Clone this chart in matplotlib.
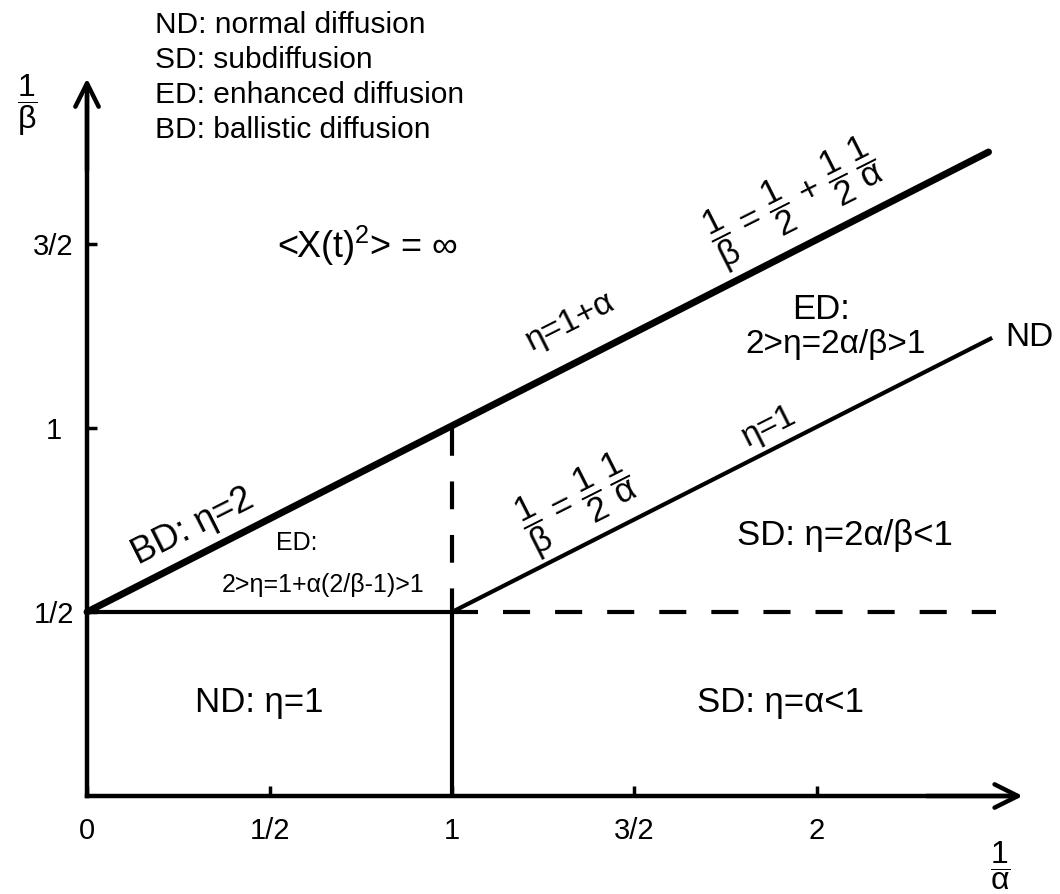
import matplotlib
matplotlib.use('Agg')
import matplotlib.pyplot as plt
import numpy as np

plt.rcParams['font.family'] = ['Liberation Sans', 'DejaVu Sans']
plt.rcParams['mathtext.fontset'] = 'custom'
plt.rcParams['mathtext.rm'] = 'Liberation Sans'
plt.rcParams['mathtext.it'] = 'Liberation Sans'
plt.rcParams['mathtext.default'] = 'regular'
plt.rcParams['lines.scale_dashes'] = False

# boundary lines of the phase diagram (x = 1/alpha, y = 1/beta)
bd_x = [0.0, 2.47]          # thick line 1/b = 1/2 + 1/(2a)
bd_y = [0.5, 1.75]
nd_x = [1.0, 2.48]          # thin line 1/b = 1/(2a)
nd_y = [0.5, 1.245]
half_solid_x = [0.0, 1.07]  # 1/b = 1/2, solid part
half_dash_x = [1.14, 2.49]  # 1/b = 1/2, dashed part
one_solid_y = [0.0, 0.5]    # 1/a = 1, solid part
one_dash_y = [1.0, 0.5]     # 1/a = 1, dashed part

xticks = [0, 0.5, 1, 1.5, 2]
xticklabels = ['0', '1/2', '1', '3/2', '2']
yticks = [0.5, 1, 1.5]
yticklabels = ['1/2', '1', '3/2']

legend_lines = ['ND: normal diffusion', 'SD: subdiffusion',
                'ED: enhanced diffusion', 'BD: ballistic diffusion']

fig = plt.figure(figsize=(10.6, 8.94), dpi=100)
ax = fig.add_axes([0, 0, 1, 1])
ax.set_xlim(-0.2384, 2.6658)
ax.set_ylim(-0.2663, 2.163)

# axes through the origin
for s in ['top', 'right']:
    ax.spines[s].set_visible(False)
ax.spines['left'].set_position(('data', 0))
ax.spines['bottom'].set_position(('data', 0))
ax.spines['left'].set_bounds(0, 1.9)
ax.spines['bottom'].set_bounds(0, 2.52)
ax.spines['left'].set_linewidth(3.2)
ax.spines['bottom'].set_linewidth(3.2)
ax.annotate('', xy=(2.564, 0), xytext=(2.3, 0),
            arrowprops=dict(arrowstyle='->', lw=3.2, mutation_scale=42,
                            shrinkA=0, shrinkB=0, color='k'))
ax.annotate('', xy=(0, 1.95), xytext=(0, 1.7),
            arrowprops=dict(arrowstyle='->', lw=3.2, mutation_scale=42,
                            shrinkA=0, shrinkB=0, color='k'))

ax.set_xticks(xticks)
ax.set_xticklabels(xticklabels)
ax.set_yticks(yticks)
ax.set_yticklabels(yticklabels, ha='center')
ax.tick_params(axis='both', direction='in', length=7, width=2.5, labelsize=21)
ax.tick_params(axis='x', pad=15)
ax.tick_params(axis='y', pad=24)

# boundaries
ax.plot(bd_x, bd_y, color='k', lw=5, solid_capstyle='round')
ax.plot(nd_x, nd_y, color='k', lw=3, solid_capstyle='butt')
ax.plot(half_solid_x, [0.5, 0.5], color='k', lw=3, solid_capstyle='butt')
ax.plot(half_dash_x, [0.5, 0.5], color='k', lw=3, dashes=(19.5, 18), dash_capstyle='butt')
ax.plot([1, 1], one_solid_y, color='k', lw=3, solid_capstyle='butt')
ax.plot([1, 1], one_dash_y, color='k', lw=3, dashes=(20, 18.5), dash_capstyle='butt')

# axis labels
ax.text(-0.164, 1.878, r'$\dfrac{1}{\beta}$', fontsize=23, ha='center', va='center')
ax.text(2.501, -0.19, r'$\dfrac{1}{\alpha}$', fontsize=23, ha='center', va='center')

# legend block
for i, t in enumerate(legend_lines):
    ax.text(0.186, 2.073 - i * 0.095, t, fontsize=21.5, ha='left', va='baseline')

ang = np.degrees(np.arctan(0.5 * 368 / 365))

ax.text(0.77, 1.462, r'<X(t)$^2$> = ∞', fontsize=26, ha='center', va='baseline')
ax.text(0.29, 0.733, 'BD: η=2', fontsize=26, ha='center', va='center', rotation=ang)
ax.text(0.575, 0.688, 'ED:', fontsize=18, ha='center', va='center')
ax.text(0.647, 0.573, '2>η=1+α(2/β-1)>1', fontsize=18, ha='center', va='center')
ax.text(1.323, 1.288, 'η=1+α', fontsize=24, ha='center', va='center', rotation=ang)
ax.text(1.94, 1.61,
        r'$\dfrac{1}{\beta}\,=\,\dfrac{1}{2}\,+\,\dfrac{1}{2}\;\dfrac{1}{\alpha}$',
        fontsize=25, ha='center', va='center', rotation=ang)
ax.text(2.011, 1.321, 'ED:', fontsize=25, ha='center', va='center')
ax.text(2.052, 1.226, '2>η=2α/β>1', fontsize=24, ha='center', va='center')
ax.text(2.515, 1.245, 'ND', fontsize=24, ha='left', va='center')
ax.text(1.345, 0.79, r'$\dfrac{1}{\beta}\,=\,\dfrac{1}{2}\;\dfrac{1}{\alpha}$',
        fontsize=25, ha='center', va='center', rotation=ang)
ax.text(1.868, 1.003, 'η=1', fontsize=24, ha='center', va='center', rotation=ang)
ax.text(2.077, 0.709, 'SD: η=2α/β<1', fontsize=25, ha='center', va='center')
ax.text(0.471, 0.253, 'ND: η=1', fontsize=25, ha='center', va='center')
ax.text(1.899, 0.253, 'SD: η=α<1', fontsize=25, ha='center', va='center')

fig.savefig('out.png', dpi=100, facecolor='white')
